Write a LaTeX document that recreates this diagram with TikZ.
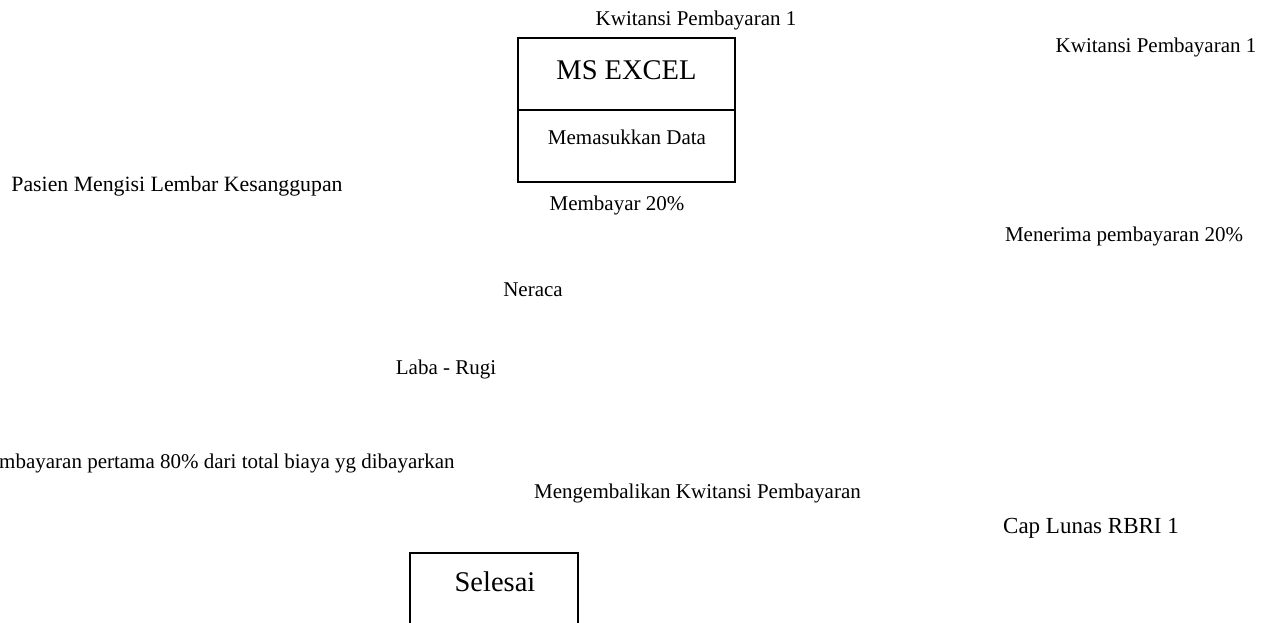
\documentclass[tikz,border=0pt]{standalone}
\usepackage{fontspec}
\setmainfont{Liberation Serif}
\begin{document}
\begin{tikzpicture}[x=1pt,y=-1pt,
  txt/.style={inner sep=0pt, font=\fontsize{21}{25}\selectfont},
  txtb/.style={inner sep=0pt, font=\fontsize{21.8}{26}\selectfont},
  txtc/.style={inner sep=0pt, font=\fontsize{23}{27}\selectfont},
  bigtxt/.style={inner sep=0pt, font=\fontsize{28.5}{33}\selectfont},
  box/.style={draw, line width=1.3pt, inner sep=0pt, minimum width=217pt, minimum height=72pt}]
\useasboundingbox (0,0) rectangle (1273,623);
\clip (0,0) rectangle (1273,623);
% MS Excel box
\node[box] (excel) at (626.5,74) {};
\node[bigtxt] (excelt) at (626.5,70) {MS EXCEL};
\node[box] (data) at (626.5,146) {};
\node[txt] (datat) at (627,137) {Memasukkan Data};
% Selesai box (cut by the lower edge)
\node[box, minimum width=168pt, minimum height=100pt] (selesai) at (494,603) {};
\node[bigtxt] (selesait) at (495,582) {Selesai};
% labels
\node[txt] (k1) at (696,20) {Kwitansi Pembayaran 1};
\node[txt] (k2) at (1156,47) {Kwitansi Pembayaran 1};
\node[txt] (bayar) at (617,205) {Membayar 20\%};
\node[txtb] (pasien) at (177,186) {Pasien Mengisi Lembar Kesanggupan};
\node[txt] (terima) at (1124,236) {Menerima pembayaran 20\%};
\node[txt] (neraca) at (533,290) {Neraca};
\node[txt] (laba) at (446,369) {Laba - Rugi};
\node[txt, anchor=west] (pertama) at (-1,463) {mbayaran pertama 80\% dari total biaya yg dibayarkan};
\node[txt] (kembali) at (697.5,493) {Mengembalikan Kwitansi Pembayaran};
\node[txtc] (cap) at (1091,528) {Cap Lunas RBRI 1};
\end{tikzpicture}
\end{document}
